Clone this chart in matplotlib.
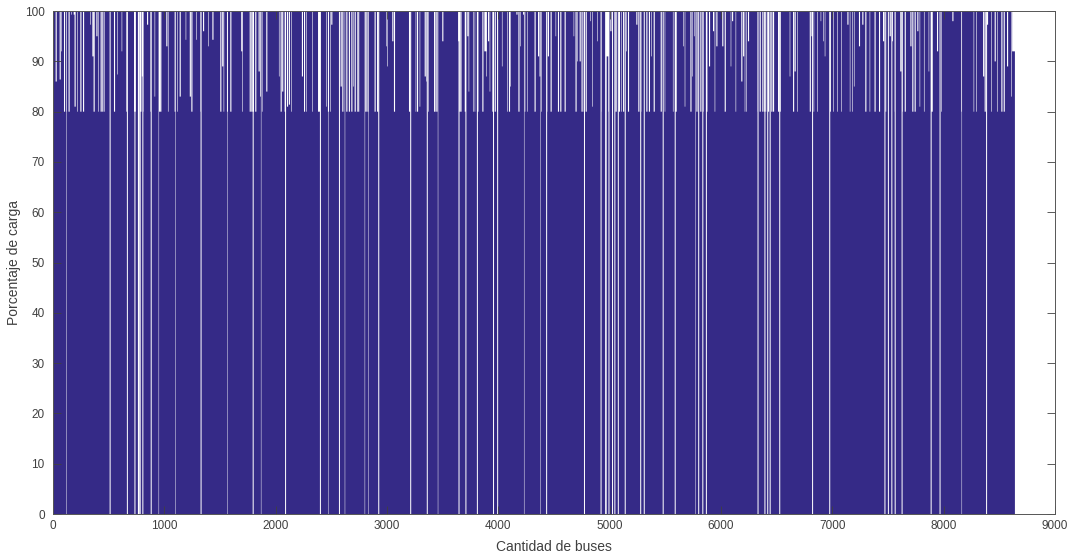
import numpy as np
import matplotlib
matplotlib.use("Agg")
import matplotlib.pyplot as plt

plt.rcParams["font.family"] = ["Liberation Sans", "DejaVu Sans"]

# Number of buses and base load (%)
n_buses = 8640
carga_base = 100.0

# Buses whose load is below 100 % (first bus of the group, load, group size)
pico_bus = [
    24, 60, 75, 99, 120, 140, 165, 186, 194, 216, 246, 270, 336, 354, 365, 390, 405, 428,
    443, 459, 510, 548, 576, 617, 659, 728, 740, 764, 785, 799, 809, 845, 875, 913, 953,
    964, 1018, 1033, 1093, 1115, 1138, 1192, 1229, 1243, 1288, 1324, 1348, 1393, 1432,
    1437, 1503, 1520, 1533, 1563, 1593, 1691, 1700, 1767, 1782, 1796, 1817, 1847, 1862,
    1877, 1916, 2030, 2045, 2059, 2081, 2102, 2119, 2141, 2236, 2255, 2276, 2327, 2381,
    2389, 2455, 2470, 2492, 2500, 2569, 2584, 2599, 2620, 2635, 2658, 2680, 2695, 2710,
    2734, 2746, 2800, 2815, 2829,
    2889, 2911, 2994, 3003, 3048, 3063, 3198, 3258, 3270, 3294, 3339, 3354, 3369, 3423,
    3437, 3453, 3497, 3639, 3653, 3665, 3699, 3722, 3734, 3773, 3788, 3812, 3857, 3875,
    3893, 3908, 3923, 3947, 3968, 3989, 4033, 4079, 4096, 4109, 4163, 4181, 4198, 4223,
    4238, 4258,
    4326, 4357, 4371, 4386, 4431, 4446, 4470, 4515, 4536, 4557, 4596, 4677, 4694, 4710,
    4731, 4748, 4767, 4785, 4827, 4845, 4890, 4919, 4970, 4988, 5007, 5024, 5054, 5084,
    5105, 5121, 5150, 5165, 5240, 5258, 5276, 5309, 5330, 5353, 5375, 5396, 5459, 5495,
    5569, 5593, 5660, 5675, 5726, 5743,
    5758, 5780, 5800, 5815, 5840, 5869, 5893, 5929, 5944, 5959, 6012, 6034, 6088, 6100,
    6132, 6183, 6199, 6214, 6228, 6243, 6328, 6348, 6372, 6388, 6402, 6423, 6453, 6468,
    6513, 6534, 6618, 6648, 6662, 6684, 6798, 6813, 6833, 6864, 6896, 6918, 6933, 6978,
    7007, 7044, 7082, 7136, 7158, 7181,
    7195, 7240, 7270, 7297, 7336, 7380, 7420, 7456, 7480, 7516, 7540, 7560, 7611, 7629,
    7651, 7702, 7719, 7740, 7764, 7785, 7824, 7866, 7893, 7941, 7965, 7980, 8079, 8159,
    8270, 8295, 8355, 8369, 8390, 8429, 8459, 8480, 8519, 8540, 8570, 8609, 8616,
]
pico_carga = [
    86, 86.4, 92, 80, 80, 80, 99.3, 99.3, 81, 80, 80, 80, 97.3, 91, 80, 95, 80, 80,
    80, 80, 80, 80, 87.4, 92, 80, 80, 80, 80, 80, 87, 80, 97.3, 80, 83, 80,
    80, 93, 80, 80, 80, 83, 94.3, 83, 80, 94.3, 80, 96, 93, 94.3,
    94.3, 80, 89, 80, 80, 80, 92, 80, 80, 80, 80, 80, 88, 83,
    80, 84, 87, 80, 84, 80, 81, 81.4, 80, 87, 80, 80, 80, 80,
    80, 81, 80, 80, 97.3, 92, 85, 80, 80, 80, 80, 80, 85, 80,
    80, 80, 80, 80, 80,
    80, 80, 93, 89, 94, 80, 80, 80, 80, 81, 87, 86, 80, 80,
    80, 80, 94, 94, 80, 80, 80, 95, 84, 80, 80, 80, 80, 92,
    87, 94, 84, 80, 80, 80, 89, 80, 80, 85, 99.3, 80, 93, 99.3,
    80, 80,
    80, 91, 87, 80, 80, 91, 80, 95, 80, 80, 80, 95, 80, 90,
    90, 80, 80, 80, 98, 81, 94, 80, 91, 80, 96, 80, 80, 80,
    80, 80, 92, 80, 97.3, 80, 80, 82, 80, 80, 91, 80, 80, 80,
    80, 80, 93, 81, 80, 87,
    95, 80, 80, 80, 80, 80, 89, 96, 80, 93, 93, 80, 89, 98,
    80, 86, 91, 80, 80, 94, 80, 80, 80, 80, 80, 80, 80, 80,
    80, 80, 87, 80, 88, 80, 80, 95, 80, 80, 98, 94, 91, 80,
    80, 80, 80, 97.3, 80, 80,
    85, 93, 97.3, 80, 80, 80, 80, 94, 80, 95, 94, 80, 88, 80,
    80, 93, 80, 80, 96, 81, 80, 88, 80, 92, 80, 80, 98, 80,
    80, 80, 87, 80, 97.3, 80, 90, 80, 80, 80, 89, 83, 92,
]
pico_ancho = [
    10, 10, 5, 10, 5, 10, 5, 10, 10, 5, 10, 10, 5, 10, 10, 10, 5, 10,
    10, 5, 5, 10, 5, 5, 10, 10, 5, 10, 10, 10, 5, 10, 5, 5, 10,
    10, 10, 5, 10, 5, 10, 5, 10, 10, 5, 10, 10, 5, 5,
    5, 10, 10, 5, 5, 10, 10, 5, 10, 10, 10, 10, 10, 10,
    5, 10, 5, 10, 10, 5, 10, 10, 5, 10, 10, 5, 5, 10,
    10, 5, 10, 5, 10, 5, 10, 10, 5, 10, 10, 10, 5, 10,
    10, 5, 10, 10, 5,
    10, 10, 5, 5, 10, 10, 10, 5, 10, 5, 10, 10, 5, 10,
    10, 5, 10, 18, 10, 5, 10, 10, 5, 5, 5, 10, 10, 18,
    5, 10, 5, 10, 10, 10, 5, 5, 10, 5, 10, 10, 5, 10,
    5, 5,
    10, 10, 10, 5, 10, 10, 10, 5, 10, 10, 10, 5, 10, 5,
    10, 10, 10, 10, 5, 5, 5, 10, 18, 10, 10, 5, 10, 10,
    5, 10, 5, 10, 10, 10, 10, 5, 10, 10, 5, 10, 10, 5,
    5, 10, 5, 5, 10, 5,
    5, 10, 5, 10, 5, 10, 10, 10, 5, 10, 10, 10, 5, 10,
    5, 10, 10, 5, 5, 10, 10, 10, 10, 5, 5, 10, 10, 10,
    10, 5, 5, 10, 10, 5, 10, 10, 5, 5, 5, 5, 5, 10,
    5, 5, 5, 10, 5, 5,
    5, 10, 10, 10, 5, 10, 10, 10, 5, 10, 5, 5, 10, 5,
    10, 10, 10, 10, 10, 5, 5, 5, 10, 10, 5, 5, 10, 5,
    5, 5, 10, 10, 10, 5, 10, 5, 10, 10, 10, 5, 25,
]

# Buses with no load (first bus of the group, group size)
cero_bus = [
    122, 509, 664, 732, 763, 779, 803, 878, 949, 1097, 1326, 1568, 1794, 1868, 2085,
    2398, 2472, 2569, 2621, 2800, 2832, 2922, 3209, 3358, 3457, 3643, 3705, 3808, 3953,
    3990, 4231, 4377, 4430, 4770, 4919, 4960, 4990, 5022, 5043, 5074, 5136, 5275, 5307,
    5477, 5585, 5771, 5796, 5833, 5865, 6329, 6391, 6416, 6438, 6524, 6819, 6973, 7469,
    7500, 7531, 7561, 7623, 7884, 7964, 8162, 8382,
]
cero_ancho = [
    4, 9, 9, 9, 14, 9, 9, 9, 4, 4, 9, 4, 9, 4, 9,
    9, 4, 9, 4, 4, 4, 9, 9, 9, 4, 9, 9, 9, 9,
    9, 4, 4, 9, 9, 9, 14, 9, 9, 9, 9, 9, 9, 9,
    9, 9, 4, 9, 9, 9, 9, 9, 9, 9, 9, 9, 9, 9,
    9, 9, 9, 9, 9, 9, 4, 9,
]

carga = np.full(n_buses, carga_base)
for b, c, w in zip(pico_bus, pico_carga, pico_ancho):
    carga[b - 1:b - 1 + w] = c
for b, w in zip(cero_bus, cero_ancho):
    carga[b - 1:b - 1 + w] = 0

fig = plt.figure(figsize=(10.71, 5.56), dpi=100)
ax = fig.add_axes([0.0495, 0.0755, 0.9355, 0.9045])

edges = np.arange(n_buses + 1) + 0.5
ax.stairs(carga, edges, fill=True, color="#352A87", linewidth=0)

ax.set_xlim(0, 9000)
ax.set_ylim(0, 100)
ax.set_xticks(np.arange(0, 9001, 1000))
ax.set_yticks(np.arange(0, 101, 10))

ax.tick_params(direction="in", top=True, right=True, length=6, width=0.6,
               colors="#404040", labelsize=8.5, pad=4)
ax.tick_params(axis="y", pad=6)
for s in ax.spines.values():
    s.set_color("#555555")
    s.set_linewidth(0.7)

ax.set_xlabel("Cantidad de buses", fontsize=10, color="#404040", labelpad=6)
ax.set_ylabel("Porcentaje de carga", fontsize=10, color="#404040", labelpad=3)

fig.savefig("out.png", dpi=100)
